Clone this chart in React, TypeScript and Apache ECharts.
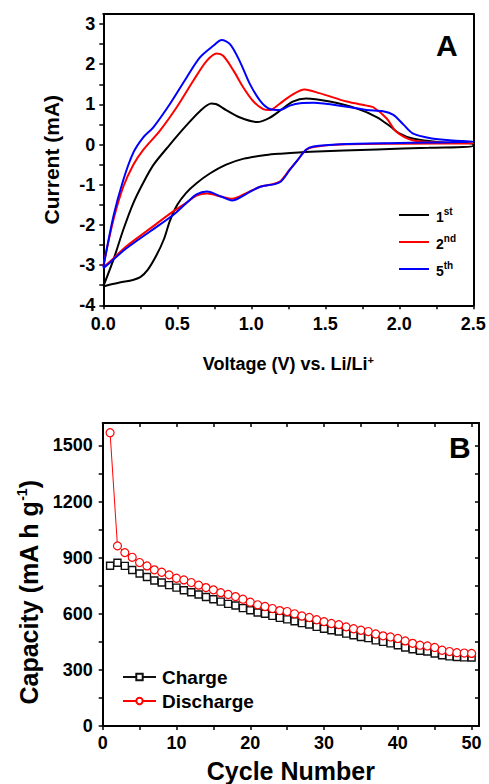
import React, { useEffect, useRef } from 'react';
import * as echarts from 'echarts';

// ---------- Panel A: cyclic voltammetry (voltage V, current mA) ----------
const cv1st: [number, number][] = [
  [0, -3.53], [0.068, -2.87], [0.135, -2.12], [0.2, -1.48], [0.27, -0.95], [0.34, -0.5],
  [0.45, 0.0], [0.56, 0.47], [0.653, 0.83], [0.73, 1.02], [0.76, 1.01], [0.83, 0.86],
  [0.92, 0.68], [1.04, 0.56], [1.12, 0.66], [1.2, 0.86], [1.28, 1.07], [1.37, 1.15],
  [1.53, 1.07], [1.71, 0.9], [1.85, 0.68], [1.94, 0.45], [2.0, 0.28], [2.09, 0.15],
  [2.27, 0.06], [2.5, 0.02],
  [2.5, -0.04], [2.2, -0.08], [1.85, -0.12], [1.4, -0.18], [1.19, -0.23], [1.1, -0.26],
  [0.95, -0.35], [0.83, -0.5], [0.72, -0.72], [0.63, -0.96], [0.56, -1.2], [0.5, -1.5],
  [0.45, -1.9], [0.41, -2.35], [0.36, -2.75], [0.3, -3.12], [0.25, -3.3], [0.2, -3.37],
  [0.11, -3.43], [0.03, -3.5], [0, -3.53],
];
const cv2nd: [number, number][] = [
  [0, -3.02], [0.068, -1.88], [0.135, -1.05], [0.203, -0.5], [0.27, -0.13], [0.383, 0.35],
  [0.496, 0.93], [0.608, 1.59], [0.7, 2.09], [0.766, 2.27], [0.81, 2.21], [0.88, 1.84],
  [0.946, 1.42], [1.01, 1.09], [1.08, 0.885], [1.126, 0.86], [1.19, 1.01], [1.26, 1.2],
  [1.36, 1.37], [1.46, 1.28], [1.645, 1.07], [1.78, 0.97], [1.825, 0.93], [1.915, 0.65],
  [1.98, 0.32], [2.09, 0.11], [2.275, 0.05], [2.5, 0.03],
  [2.5, 0.03], [2.0, 0.02], [1.6, 0.0], [1.42, -0.06], [1.37, -0.13], [1.31, -0.4],
  [1.26, -0.62], [1.2, -0.9], [1.15, -0.98], [1.06, -1.05], [0.97, -1.2], [0.87, -1.35],
  [0.8, -1.3], [0.7, -1.22], [0.63, -1.27], [0.56, -1.45], [0.47, -1.67], [0.32, -2.08],
  [0.15, -2.55], [0.05, -2.9], [0, -3.05],
];
const cv5th: [number, number][] = [
  [0, -3.06], [0.068, -1.79], [0.135, -0.88], [0.203, -0.2], [0.27, 0.18], [0.338, 0.43],
  [0.45, 1.01], [0.563, 1.67], [0.653, 2.17], [0.743, 2.46], [0.8, 2.6], [0.856, 2.5],
  [0.92, 2.09], [0.99, 1.51], [1.06, 1.09], [1.125, 0.885], [1.19, 0.86], [1.26, 0.97],
  [1.33, 1.03], [1.42, 1.04], [1.645, 0.94], [1.78, 0.86], [1.89, 0.83], [1.96, 0.74],
  [2.03, 0.49], [2.09, 0.28], [2.21, 0.16], [2.365, 0.1], [2.5, 0.07],
  [2.5, 0.07], [2.0, 0.04], [1.6, 0.01], [1.42, -0.05], [1.37, -0.13], [1.31, -0.4],
  [1.26, -0.63], [1.2, -0.92], [1.15, -0.99], [1.06, -1.05], [0.97, -1.22], [0.87, -1.39],
  [0.8, -1.3], [0.7, -1.17], [0.63, -1.24], [0.56, -1.46], [0.47, -1.76], [0.32, -2.15],
  [0.15, -2.6], [0.05, -2.92], [0, -3.08],
];
const cvNames = ['1st', '2nd', '5th'];
const cvXTicks = [0, 0.5, 1.0, 1.5, 2.0, 2.5];
const cvXMinor = [0, 0.25, 0.5, 0.75, 1, 1.25, 1.5, 1.75, 2, 2.25, 2.5];
const cvYTicks = [-4, -3, -2, -1, 0, 1, 2, 3];
const cvYMinor = [-4, -3.5, -3, -2.5, -2, -1.5, -1, -0.5, 0, 0.5, 1, 1.5, 2, 2.5, 3];

// ---------- Panel B: cycling capacity ----------
const cycles = [
  1, 2, 3, 4, 5, 6, 7, 8, 9, 10, 11, 12, 13, 14, 15, 16, 17, 18, 19, 20, 21, 22, 23, 24, 25,
  26, 27, 28, 29, 30, 31, 32, 33, 34, 35, 36, 37, 38, 39, 40, 41, 42, 43, 44, 45, 46, 47, 48, 49, 50,
];
const charge = [
  857, 873, 856, 834, 815, 797, 778, 767, 753, 740, 726, 715, 703, 690, 678, 665, 653, 644, 630, 619,
  607, 600, 589, 578, 570, 560, 550, 543, 530, 520, 512, 505, 494, 485, 476, 470, 458, 450, 442, 432,
  420, 410, 402, 398, 388, 378, 372, 369, 367, 366,
];
const discharge = [
  1568, 963, 927, 902, 874, 856, 835, 822, 808, 790, 781, 767, 753, 740, 728, 713, 703, 692, 678, 662,
  648, 639, 628, 617, 612, 600, 588, 580, 568, 558, 548, 542, 530, 520, 512, 505, 492, 482, 476, 468,
  455, 442, 432, 428, 420, 405, 398, 392, 390, 388,
];
const capXTicks = [0, 10, 20, 30, 40, 50];
const capXMinor = [0, 5, 10, 15, 20, 25, 30, 35, 40, 45, 50];
const capYTicks = [0, 300, 600, 900, 1200, 1500];
const capYMinor = [0, 150, 300, 450, 600, 750, 900, 1050, 1200, 1350, 1500];

const FONT = '"Liberation Sans", Arial, Helvetica, sans-serif';
const lineCol = '#000';

export default function App() {
  const ref = useRef<HTMLDivElement>(null);

  useEffect(() => {
    if (!ref.current) return;
    const chart = echarts.init(ref.current, undefined, { renderer: 'svg' });

    const axisLine = { show: true, onZero: false, lineStyle: { color: lineCol, width: 2 } };
    const labelStyle = { color: '#000', fontFamily: FONT, fontWeight: 'bold' as const };

    const option: any = {
      animation: false,
      backgroundColor: '#fff',
      grid: [
        { left: 103.3, top: 14, width: 370, height: 291.3, containLabel: false },
        { left: 102.7, top: 423, width: 376.3, height: 303.3, containLabel: false },
      ],
      xAxis: [
        {
          gridIndex: 0, type: 'value', position: 'bottom', min: 0, max: 2.5, interval: 0.5,
          axisLine, splitLine: { show: false },
          axisTick: { show: true, length: 4, customValues: cvXMinor, lineStyle: { color: lineCol, width: 1.5 } },
          axisLabel: { ...labelStyle, fontSize: 18, margin: 10, customValues: cvXTicks, formatter: (v: number) => v.toFixed(1) },
          name: 'Voltage (V) vs. Li/Li{sup|+}',
          nameLocation: 'middle', nameGap: 49,
          nameTextStyle: {
            ...labelStyle, fontSize: 18,
            rich: { sup: { ...labelStyle, fontSize: 11, verticalAlign: 'top', lineHeight: 20 } },
          },
        },
        {
          gridIndex: 0, type: 'value', position: 'top', min: 0, max: 2.5,
          axisLine, axisTick: { show: false }, axisLabel: { show: false }, splitLine: { show: false },
        },
        {
          gridIndex: 1, type: 'value', position: 'bottom', min: 0, max: 51, interval: 10,
          axisLine, splitLine: { show: false },
          axisTick: { show: true, length: 4, customValues: capXMinor, lineStyle: { color: lineCol, width: 1.5 } },
          axisLabel: { ...labelStyle, fontSize: 18, margin: 8, customValues: capXTicks },
          name: 'Cycle Number', nameLocation: 'middle', nameGap: 32,
          nameTextStyle: { ...labelStyle, fontSize: 25 },
        },
        {
          gridIndex: 1, type: 'value', position: 'top', min: 0, max: 51,
          axisLine, splitLine: { show: false }, axisLabel: { show: false },
          axisTick: { show: true, inside: true, length: 4, customValues: capXMinor, lineStyle: { color: lineCol, width: 1.5 } },
        },
      ],
      yAxis: [
        {
          gridIndex: 0, type: 'value', position: 'left', min: -4, max: 3.25, interval: 1,
          axisLine, splitLine: { show: false },
          axisTick: { show: true, length: 4, customValues: cvYMinor, lineStyle: { color: lineCol, width: 1.5 } },
          axisLabel: { ...labelStyle, fontSize: 18, margin: 8, customValues: cvYTicks },
          name: 'Current (mA)', nameLocation: 'middle', nameGap: 41, nameRotate: 90,
          nameTextStyle: { ...labelStyle, fontSize: 21 },
        },
        {
          gridIndex: 0, type: 'value', position: 'right', min: -4, max: 3.25,
          axisLine, axisTick: { show: false }, axisLabel: { show: false }, splitLine: { show: false },
        },
        {
          gridIndex: 1, type: 'value', position: 'left', min: 0, max: 1620, interval: 300,
          axisLine, splitLine: { show: false },
          axisTick: { show: true, length: 4, customValues: capYMinor, lineStyle: { color: lineCol, width: 1.5 } },
          axisLabel: { ...labelStyle, fontSize: 18, margin: 10, customValues: capYTicks, formatter: (v: number) => String(v) },
          name: 'Capacity (mA h g{sup|-1})', nameLocation: 'middle', nameGap: 58, nameRotate: 90,
          nameTextStyle: {
            ...labelStyle, fontSize: 25, padding: [0, 36, 0, 0],
            rich: { sup: { ...labelStyle, fontSize: 14, verticalAlign: 'top', lineHeight: 28 } },
          },
        },
        {
          gridIndex: 1, type: 'value', position: 'right', min: 0, max: 1620,
          axisLine, splitLine: { show: false }, axisLabel: { show: false },
          axisTick: { show: true, inside: true, length: 4, customValues: capYMinor, lineStyle: { color: lineCol, width: 1.5 } },
        },
      ],
      legend: [
        {
          data: cvNames, orient: 'vertical', left: 393, top: 201, itemWidth: 30, itemHeight: 14,
          itemGap: 9, selectedMode: false,
          itemStyle: { opacity: 0 },
          formatter: (name: string) => `{n|${name.charAt(0)}}{s|${name.slice(1)}}`,
          textStyle: {
            padding: [0, 0, 0, 2],
            rich: {
              n: { ...labelStyle, fontSize: 14, lineHeight: 18, verticalAlign: 'bottom' },
              s: { ...labelStyle, fontSize: 10, lineHeight: 18, verticalAlign: 'top' },
            },
          },
        },
        {
          data: ['Charge', 'Discharge'], orient: 'vertical', left: 117, top: 662, itemWidth: 33, itemHeight: 8,
          itemGap: 4, selectedMode: false,
          textStyle: { ...labelStyle, fontSize: 19, lineHeight: 20, padding: [0, 0, 0, 1] },
        },
      ],
      graphic: [
        { type: 'text', left: 436, top: 30, style: { text: 'A', font: `bold 30px ${FONT}`, fill: '#000' } },
        { type: 'text', left: 449, top: 432, style: { text: 'B', font: `bold 30px ${FONT}`, fill: '#000' } },
      ],
      series: [
        { name: '1st', data: cv1st, color: '#000000' },
        { name: '2nd', data: cv2nd, color: '#ff0000' },
        { name: '5th', data: cv5th, color: '#0000ff' },
      ].map((s) => ({
        type: 'line', name: s.name, xAxisIndex: 0, yAxisIndex: 0, data: s.data,
        symbol: 'none', smooth: 0.3, itemStyle: { color: s.color },
        lineStyle: { color: s.color, width: 2 }, z: 3,
      })).concat([
        {
          type: 'line', name: 'Charge', xAxisIndex: 2, yAxisIndex: 2,
          data: cycles.map((c, i) => [c, charge[i]]),
          symbol: 'rect', symbolSize: 7, showAllSymbol: true,
          itemStyle: { color: '#fff', borderColor: '#111', borderWidth: 1.4 },
          lineStyle: { color: '#111', width: 1 }, z: 3,
        } as any,
        {
          type: 'line', name: 'Discharge', xAxisIndex: 2, yAxisIndex: 2,
          data: cycles.map((c, i) => [c, discharge[i]]),
          symbol: 'circle', symbolSize: 8, showAllSymbol: true,
          itemStyle: { color: '#fff', borderColor: '#ff0000', borderWidth: 1.2 },
          lineStyle: { color: '#ff0000', width: 1 }, z: 4,
        } as any,
      ]),
    };

    chart.setOption(option);
    return () => chart.dispose();
  }, []);

  return (
    <div
      ref={ref}
      style={{ position: 'fixed', left: 0, top: 0, width: 489, height: 784, background: '#fff' }}
    />
  );
}
